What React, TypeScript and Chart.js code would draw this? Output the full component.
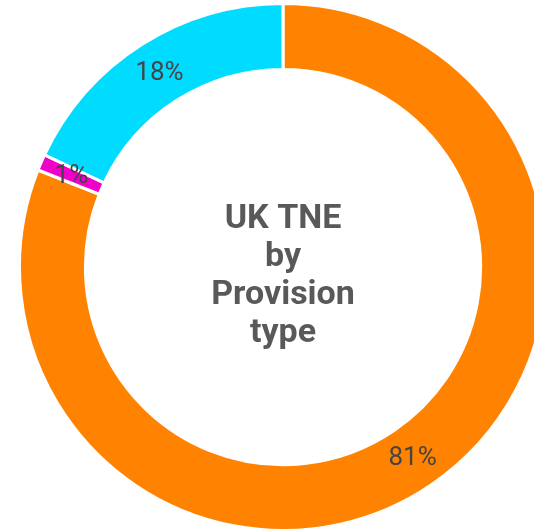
import React, { useEffect, useRef } from "react";
import { Chart, registerables } from "chart.js";

Chart.register(...registerables);

const categories = ["Provision A", "Provision B", "Provision C"];
const values = [81, 1, 18];
const valueLabels = ["81%", "1%", "18%"];
const colors = ["#FF8300", "#F000C8", "#00DCFF"];
const centerLines = ["UK TNE", "by", "Provision", "type"];

const labelPlugin = {
  id: "sliceLabels",
  afterDatasetsDraw(chart: any) {
    const ctx = chart.ctx;
    const meta = chart.getDatasetMeta(0);
    ctx.save();
    ctx.font = "26px Roboto";
    ctx.fillStyle = "#444444";
    ctx.textAlign = "center";
    ctx.textBaseline = "middle";
    meta.data.forEach((arc: any, i: number) => {
      const p = arc.tooltipPosition();
      ctx.fillText(valueLabels[i], p.x, p.y + 1);
    });
    const cx = (chart.chartArea.left + chart.chartArea.right) / 2;
    const cy = (chart.chartArea.top + chart.chartArea.bottom) / 2;
    ctx.font = "bold 34px Roboto";
    ctx.fillStyle = "#595959";
    const lh = 38;
    const start = cy + 9 - ((centerLines.length - 1) * lh) / 2;
    centerLines.forEach((t, i) => ctx.fillText(t, cx, start + i * lh));
    ctx.restore();
  },
};

export default function App() {
  const ref = useRef<HTMLCanvasElement | null>(null);
  useEffect(() => {
    if (!ref.current) return;
    const chart = new Chart(ref.current, {
      type: "doughnut",
      data: {
        labels: categories,
        datasets: [
          {
            data: values,
            backgroundColor: colors,
            borderColor: "#ffffff",
            borderWidth: 3,
          },
        ],
      },
      options: {
        animation: false,
        responsive: false,
        cutout: "75%",
        plugins: { legend: { display: false }, tooltip: { enabled: false } },
      },
      plugins: [labelPlugin],
    });
    return () => chart.destroy();
  }, []);
  return (
    <div style={{ position: "fixed", left: 0, top: 0, width: 534, height: 531, overflow: "hidden", background: "#fff" }}>
      <canvas ref={ref} width={530} height={530} style={{ position: "absolute", left: 18, top: 2, width: 530, height: 530 }} />
    </div>
  );
}
